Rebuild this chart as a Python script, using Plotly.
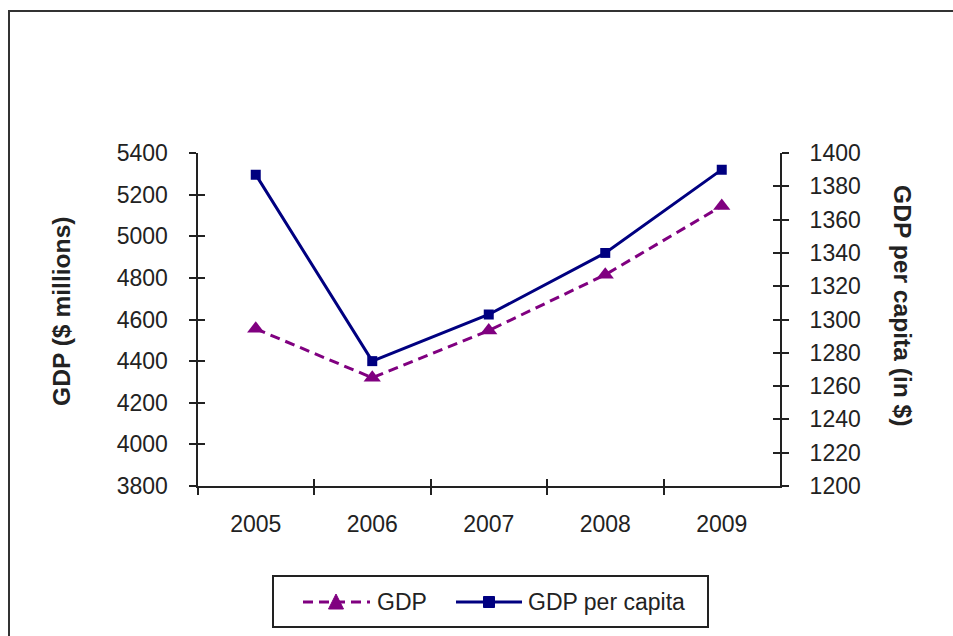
import plotly.graph_objects as go

# ---- data ----
years = ["2005", "2006", "2007", "2008", "2009"]
gdp = [4555, 4320, 4547, 4815, 5145]            # $ millions (left axis)
gdp_per_capita = [1387, 1275, 1303, 1340, 1390]  # $ (right axis)

left_ticks = list(range(3800, 5401, 200))
right_ticks = list(range(1200, 1401, 20))

W, H = 953, 636
PURPLE = "#800080"
NAVY = "#000080"
INK = "#222222"
FONT = "Arial, Liberation Sans, sans-serif"


def px(x):
    return x / W


def py(y):
    return 1 - y / H


fig = go.Figure()

fig.add_trace(go.Scatter(
    x=years, y=gdp, name="GDP", xaxis="x", yaxis="y",
    mode="lines+markers",
    line=dict(color=PURPLE, width=3, dash="10px,6px"),
    marker=dict(symbol="triangle-up", size=15, color=PURPLE),
    showlegend=False, hoverinfo="x+y",
))
fig.add_trace(go.Scatter(
    x=years, y=gdp_per_capita, name="GDP per capita", xaxis="x", yaxis="y2",
    mode="lines+markers",
    line=dict(color=NAVY, width=3),
    marker=dict(symbol="square", size=10, color=NAVY),
    showlegend=False, hoverinfo="x+y",
))
# invisible helpers so the overlay axes (inner half of cross ticks) are drawn
fig.add_trace(go.Scatter(x=years, y=gdp, xaxis="x2", yaxis="y3", mode="markers",
                         marker=dict(opacity=0), showlegend=False, hoverinfo="skip"))
fig.add_trace(go.Scatter(x=years, y=gdp_per_capita, xaxis="x2", yaxis="y4", mode="markers",
                         marker=dict(opacity=0), showlegend=False, hoverinfo="skip"))

xdom = [px(197.5), px(780)]
ydom = [py(486), py(153)]

tickfont = dict(family=FONT, size=23, color=INK)
common = dict(automargin=False, showgrid=False, zeroline=False, tickcolor=INK, tickwidth=2, ticklen=7)

fig.update_layout(
    template="none",
    width=W, height=H, autosize=False,
    margin=dict(l=0, r=0, t=0, b=0, pad=0, autoexpand=False),
    paper_bgcolor="white", plot_bgcolor="white",
    font=dict(family=FONT, color=INK),
    xaxis=dict(
        domain=xdom, anchor="y", type="category", range=[-0.5, 4.5],
        tickson="boundaries", ticks="outside",
        showline=True, linecolor=INK, linewidth=2,
        tickfont=tickfont, ticklabelstandoff=16, **common,
    ),
    xaxis2=dict(
        domain=xdom, anchor="y", overlaying="x", type="category", range=[-0.5, 4.5],
        tickson="boundaries", ticks="inside",
        showline=False, showticklabels=False, **common,
    ),
    yaxis=dict(
        domain=ydom, anchor="x", range=[3800, 5400], tickvals=left_ticks,
        ticks="outside", showline=True, linecolor=INK, linewidth=2,
        tickfont=tickfont, ticklabelstandoff=16, **common,
    ),
    yaxis2=dict(
        domain=ydom, anchor="x", overlaying="y", side="right", range=[1200, 1400],
        tickvals=right_ticks, ticks="outside", showline=True, linecolor=INK, linewidth=2,
        tickfont=tickfont, ticklabelstandoff=16, **common,
    ),
    yaxis3=dict(
        domain=ydom, anchor="x2", overlaying="y", side="left", range=[3800, 5400],
        tickvals=left_ticks, ticks="inside", showline=False, showticklabels=False, **common,
    ),
    yaxis4=dict(
        domain=ydom, anchor="x2", overlaying="y", side="right", range=[1200, 1400],
        tickvals=right_ticks, ticks="inside", showline=False, showticklabels=False, **common,
    ),
)

# axis titles
fig.add_annotation(text="<b>GDP ($ millions)</b>", x=px(62), y=py(311), xref="paper", yref="paper",
                   textangle=-90, showarrow=False, font=dict(family=FONT, size=24.6, color=INK),
                   xanchor="center", yanchor="middle")
fig.add_annotation(text="<b>GDP per capita (in $)</b>", x=px(903), y=py(305), xref="paper", yref="paper",
                   textangle=90, showarrow=False, font=dict(family=FONT, size=24.6, color=INK),
                   xanchor="center", yanchor="middle")

shapes = []
# outer chart frame
shapes.append(dict(type="rect", xref="paper", yref="paper", x0=px(9), x1=1.05, y0=-0.05, y1=py(11),
                   line=dict(color="#333333", width=2), fillcolor="rgba(0,0,0,0)", layer="below"))

# legend box
ly = 602
shapes.append(dict(type="rect", xref="paper", yref="paper", x0=px(273), x1=px(708), y0=py(627), y1=py(576),
                   line=dict(color=INK, width=2), fillcolor="white"))
# GDP key
shapes.append(dict(type="line", xref="paper", yref="paper", x0=px(303), x1=px(370), y0=py(ly), y1=py(ly),
                   line=dict(color=PURPLE, width=3, dash="10px,6px")))
tcx = 336
shapes.append(dict(type="path", xref="paper", yref="paper",
                   path=f"M {px(tcx-7.5)},{py(ly+7)} L {px(tcx+7.5)},{py(ly+7)} L {px(tcx)},{py(ly-8)} Z",
                   fillcolor=PURPLE, line=dict(color=PURPLE, width=1)))
# GDP per capita key
shapes.append(dict(type="line", xref="paper", yref="paper", x0=px(456), x1=px(522), y0=py(ly), y1=py(ly),
                   line=dict(color=NAVY, width=3)))
scx = 489
shapes.append(dict(type="rect", xref="paper", yref="paper", x0=px(scx-5.5), x1=px(scx+5.5),
                   y0=py(ly+5.5), y1=py(ly-5.5), fillcolor=NAVY, line=dict(color=NAVY, width=1)))
fig.update_layout(shapes=shapes)

fig.add_annotation(text="GDP", x=px(375), y=py(ly), xref="paper", yref="paper", showarrow=False,
                   xanchor="left", yanchor="middle", font=dict(family=FONT, size=23, color=INK))
fig.add_annotation(text="GDP per capita", x=px(526), y=py(ly), xref="paper", yref="paper", showarrow=False,
                   xanchor="left", yanchor="middle", font=dict(family=FONT, size=23, color=INK))

post = """
document.documentElement.style.margin='0';
document.documentElement.style.padding='0';
document.documentElement.style.overflow='hidden';
document.body.style.margin='0';
document.body.style.padding='0';
document.body.style.overflow='hidden';
var gd = document.getElementById('{plot_id}');
gd.style.position='fixed'; gd.style.left='0px'; gd.style.top='0px';
"""

fig.write_html("out.html", config={"displayModeBar": False}, post_script=post)
